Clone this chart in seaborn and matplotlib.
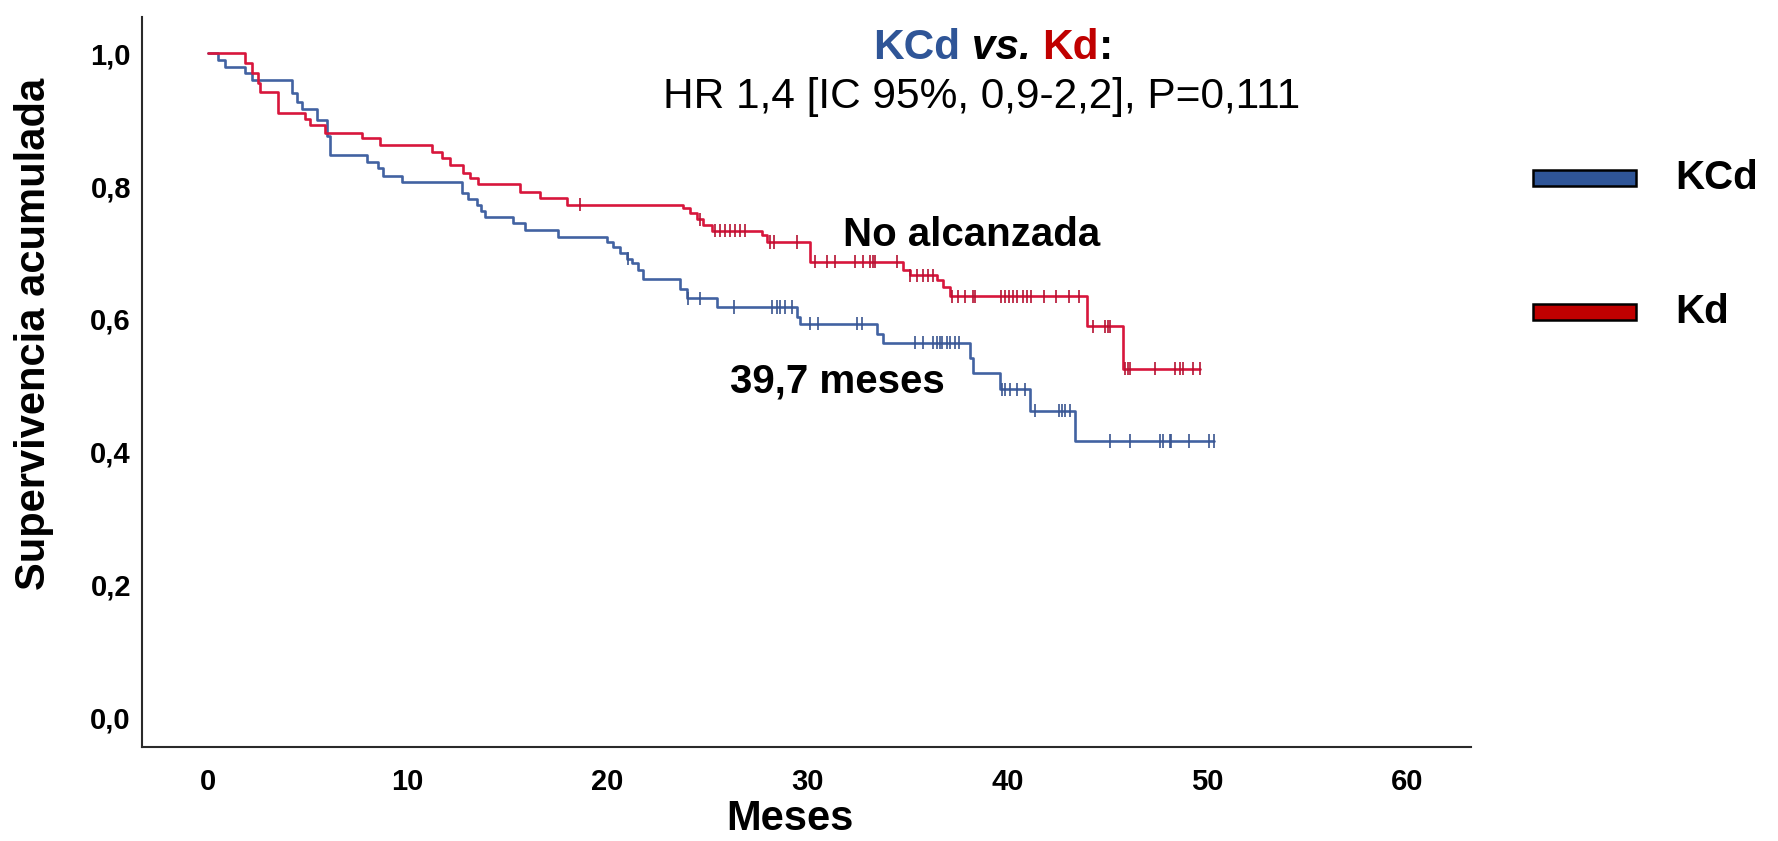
import numpy as np
import pandas as pd
import matplotlib
matplotlib.use("Agg")
import matplotlib.pyplot as plt
import seaborn as sns
from matplotlib import font_manager
from matplotlib.patches import Rectangle

# ---------------- data ----------------
kcd_times = [0, 0.52, 0.85, 1.85, 2.2, 4.19, 4.44, 4.69, 5.44, 5.94, 6.1, 7.94, 8.5, 8.77,
             9.69, 12.7, 13.03, 13.45, 13.65, 13.86, 15.28, 15.87, 17.53, 19.95, 20.28,
             20.62, 20.95, 21.2, 21.54, 21.79, 23.62, 23.95, 25.46, 29.46, 29.63, 33.47,
             33.8, 38.14, 38.3, 39.64, 41.14, 43.39]
kcd_surv = [1.0, 0.99, 0.98, 0.97, 0.96, 0.94, 0.927, 0.917, 0.90, 0.875, 0.847, 0.837, 0.827,
            0.816, 0.806, 0.79, 0.781, 0.771, 0.762, 0.753, 0.744, 0.734, 0.723, 0.716, 0.709,
            0.700, 0.691, 0.684, 0.674, 0.660, 0.645, 0.631, 0.618, 0.603, 0.593, 0.578,
            0.564, 0.541, 0.519, 0.494, 0.462, 0.416]
kcd_end = 50.32
kcd_censor = [21.0, 24.0, 24.62, 26.3, 28.21, 28.46, 28.63, 28.88, 29.21, 30.13, 30.55, 32.47,
              32.72, 35.38, 35.8, 36.3, 36.47, 36.64, 36.72, 36.97, 37.14, 37.39, 37.56,
              39.72, 39.89, 40.14, 40.47, 40.89, 41.39, 42.56, 42.73, 42.9, 43.14,
              45.15, 46.15, 47.65, 47.8, 48.15, 48.2, 49.07, 50.07, 50.32]

kd_times = [0, 1.85, 2.19, 2.52, 2.6, 3.52, 4.85, 5.1, 5.86, 7.69, 8.6, 11.2, 11.7, 12.11,
            12.78, 13.11, 13.53, 15.6, 16.6, 17.95, 23.79, 24.12, 24.46, 24.79, 25.21, 27.71,
            27.96, 30.13, 34.8, 35.13, 36.47, 36.8, 37.14, 44.0, 45.81]
kd_surv = [1.0, 0.985, 0.97, 0.955, 0.942, 0.911, 0.902, 0.892, 0.88, 0.872, 0.862, 0.852,
           0.842, 0.832, 0.82, 0.812, 0.803, 0.792, 0.782, 0.772, 0.767, 0.759, 0.750, 0.741,
           0.733, 0.726, 0.716, 0.686, 0.674, 0.666, 0.659, 0.648, 0.634, 0.589, 0.525]
kd_end = 49.65
kd_censor = [18.62, 24.6, 25.38, 25.63, 25.88, 26.13, 26.38, 26.63, 26.88, 28.1, 28.3, 29.46,
             30.38, 30.96, 31.38, 32.38, 32.8, 33.13, 33.3, 33.38, 34.47, 35.13, 35.47, 35.8,
             36.05, 36.3, 37.22, 37.55, 37.9, 38.3, 38.4, 39.7, 39.9, 40.1, 40.3, 40.5, 40.8,
             41.0, 41.2, 41.85, 42.45, 43.1, 43.6, 44.3, 44.9, 45.06, 45.14, 45.89, 46.06,
             46.14, 47.39, 48.39, 48.64, 48.81, 49.31, 49.65]

groups = ["KCd", "Kd"]
x_ticks = [0, 10, 20, 30, 40, 50, 60]
y_ticks = [0.0, 0.2, 0.4, 0.6, 0.8, 1.0]
y_tick_labels = ["0,0", "0,2", "0,4", "0,6", "0,8", "1,0"]
median_labels = ["39,7 meses", "No alcanzada"]
hr_text = "HR 1,4 [IC 95%, 0,9-2,2], P=0,111"

# ---------------- style ----------------
line_colors = {"KCd": "#4262A2", "Kd": "#D8163C"}
mark_colors = {"KCd": "#3A5590", "Kd": "#B51232"}
legend_colors = {"KCd": "#2F5597", "Kd": "#C00000"}

sns.set_theme(style="white")
plt.rcParams["font.family"] = ["Liberation Sans", "DejaVu Sans"]
plt.rcParams["text.color"] = "black"
plt.rcParams["axes.labelcolor"] = "black"
avail = {f.name for f in font_manager.fontManager.ttflist}
narrow = "Liberation Sans Narrow" if "Liberation Sans Narrow" in avail else "Liberation Sans"


def step_frame(times, surv, end, name):
    t = list(times) + [end]
    s = list(surv) + [surv[-1]]
    return pd.DataFrame({"Meses": t, "S": s, "grupo": name})


def censor_frame(ct, times, surv, name):
    idx = np.searchsorted(np.array(times), np.array(ct), side="right") - 1
    return pd.DataFrame({"Meses": ct, "S": np.array(surv)[idx], "grupo": name})


curves = pd.concat([step_frame(kcd_times, kcd_surv, kcd_end, "KCd"),
                    step_frame(kd_times, kd_surv, kd_end, "Kd")], ignore_index=True)
cens = pd.concat([censor_frame(kcd_censor, kcd_times, kcd_surv, "KCd"),
                  censor_frame(kd_censor, kd_times, kd_surv, "Kd")], ignore_index=True)

W, H = 1778, 841
fig = plt.figure(figsize=(W / 100, H / 100), dpi=100)
ax = fig.add_axes([142 / W, 1 - 747 / H, (1471 - 142) / W, (747 - 17) / H])

sns.lineplot(data=curves, x="Meses", y="S", hue="grupo", palette=line_colors,
             estimator=None, sort=False, drawstyle="steps-post", linewidth=1.9,
             legend=False, ax=ax)
sns.scatterplot(data=cens, x="Meses", y="S", hue="grupo", palette=mark_colors,
                marker="|", s=90, linewidth=1.2, legend=False, ax=ax, zorder=3)

ax.set_xlim(-3.3, 63.2)
ax.set_ylim(-0.045, 1.055)
ax.set_xticks(x_ticks)
ax.set_xticklabels([str(v) for v in x_ticks], fontfamily=narrow, fontweight="bold", fontsize=21)
ax.set_yticks(y_ticks)
ax.set_yticklabels(y_tick_labels, fontweight="bold", fontsize=21)
ax.tick_params(axis="both", length=0, colors="black")
ax.tick_params(axis="x", pad=15)
ax.tick_params(axis="y", pad=8)
for side in ["top", "right"]:
    ax.spines[side].set_visible(False)
for side in ["left", "bottom"]:
    ax.spines[side].set_color("#2a2a2a")
    ax.spines[side].set_linewidth(1.5)

ax.set_xlabel("Meses", fontfamily=narrow, fontweight="bold", fontsize=30, va="center",
              color="black")
ax.xaxis.set_label_coords(0.4876, -0.0986)
ax.set_ylabel("Supervivencia acumulada", fontfamily=narrow, fontweight="bold", fontsize=30,
              va="center", color="black")
ax.yaxis.set_label_coords(-0.081, 0.566)

# median annotations
ax.text(31.5, 0.505, median_labels[0], fontsize=29, fontweight="bold", ha="center",
        va="center", color="black")
ax.text(38.2, 0.726, median_labels[1], fontsize=29, fontweight="bold", ha="center",
        va="center", color="black")

# title: KCd vs. Kd:
fig.canvas.draw()
renderer = fig.canvas.get_renderer()
pieces = [("KCd", legend_colors["KCd"], "normal"), (" vs. ", "black", "italic"),
          ("Kd", legend_colors["Kd"], "normal"), (":", "black", "normal")]
x0 = 873
base_y = 1 - 59 / H
for txt, col, sty in pieces:
    t = fig.text(x0 / W, base_y, txt, color=col, fontsize=30.5, fontweight="bold",
                 fontstyle=sty, ha="left", va="baseline")
    bb = t.get_window_extent(renderer)
    x0 += bb.width
fig.text(982 / W, 1 - 108 / H, hr_text, fontsize=30.5, ha="center", va="baseline",
         color="black")

# legend
for name, yc in zip(groups, [178, 312]):
    fig.add_artist(Rectangle((1533 / W, 1 - (yc + 8) / H), 103 / W, 16 / H,
                             transform=fig.transFigure, facecolor=legend_colors[name],
                             edgecolor="black", linewidth=1.8))
    fig.text(1675 / W, 1 - yc / H, name, fontsize=29, fontweight="bold", ha="left",
             va="center", color="black")

fig.savefig("out.png", dpi=100)
